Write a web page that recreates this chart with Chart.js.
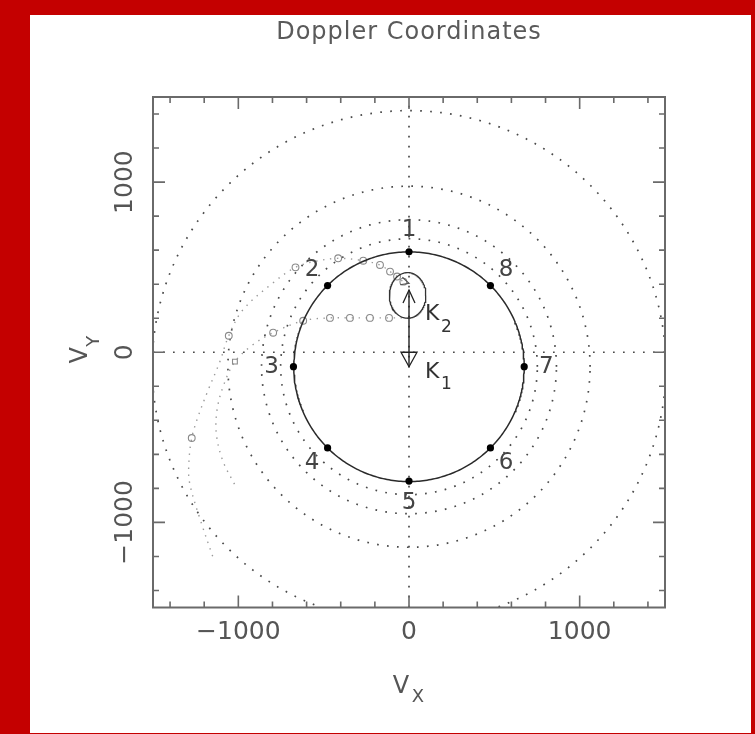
<!DOCTYPE html>
<html>
<head>
<meta charset="utf-8">
<script src="https://cdn.jsdelivr.net/npm/chart.js@4"></script>
<style>
  html, body { margin: 0; padding: 0; background: #c40000; }
  canvas { display: block; }
</style>
</head>
<body>
<canvas id="doppler" width="755" height="734"></canvas>
<script>
// ---- axis range and ticks (km/s) ----
const AXIS_MIN = -1500;
const AXIS_MAX = 1500;
const MAJOR_STEP = 1000;
const MINOR_STEP = 200;
const tickValues = [-1000, 0, 1000];

// ---- dotted reference circles around the primary ----
const ringCentre = [0, -85];
const ringRadii = [752, 864, 1061, 1505];

// ---- solid orbit circle and its eight phase markers ----
const orbitRadius = 675;
const phaseLabels = ['1', '2', '3', '4', '5', '6', '7', '8'];
const phaseVx = [0, -477, -677, -477, 0, 477, 675, 477];
const phaseVy = [590, 392, -85, -562, -757, -562, -85, 392];

// ---- K1 / K2 velocity arrows ----
const kNames = ['K', 'K'];
const kSubs = ['1', '2'];
const kValues = [-85, 366];

// ---- secondary's lobe (small loop near K2) ----
const lobeCentre = [-8, 334];
const lobeRadii = [107, 134];

// ---- gas stream trajectories (0 = no marker, 1 = circle, 2 = square) ----
const streamAVx = [0, -33, -70, -111, -170, -268, -415, -545, -665, -798, -974, -1056, -1110, -1180, -1240, -1273, -1290, -1285, -1226, -1150];
const streamAVy = [405, 415, 445, 474, 513, 538, 552, 535, 499, 407, 248, 97, -60, -230, -390, -504, -650, -770, -975, -1200];
const streamAMark = [0, 1, 1, 1, 1, 1, 1, 0, 1, 0, 0, 1, 0, 0, 0, 1, 0, 0, 0, 0];

const streamBVx = [0, -117, -229, -346, -463, -620, -796, -920, -1020, -1085, -1125, -1128, -1090, -1020];
const streamBVy = [202, 202, 202, 202, 202, 185, 115, 40, -55, -190, -340, -486, -640, -780];
const streamBMark = [0, 1, 1, 1, 1, 1, 1, 0, 2, 0, 0, 0, 0, 0];

// ---- text ----
const titleText = 'Doppler Coordinates';
const xTitle = ['V', 'X'];
const yTitle = ['V', 'Y'];

const FONT = '"DejaVu Sans", "Liberation Sans", sans-serif';
const TEXT_GREY = '#555';

function ellipse(cx, cy, rx, ry, n) {
  const pts = [];
  for (let i = 0; i <= n; i++) {
    const t = (i / n) * 2 * Math.PI;
    pts.push({ x: cx + rx * Math.cos(t), y: cy + ry * Math.sin(t) });
  }
  return pts;
}
function zip(xs, ys) { return xs.map((x, i) => ({ x, y: ys[i] })); }

const dotted = { borderColor: '#4a4a4a', borderWidth: 1.7, borderDash: [1.7, 8.3], borderCapStyle: 'butt' };

const datasets = [];

// filled phase markers on the orbit
datasets.push({
  label: 'phases', data: zip(phaseVx, phaseVy), showLine: false,
  pointRadius: 3.6, pointBackgroundColor: '#000', pointBorderColor: '#000', pointBorderWidth: 0
});
// orbit circle
datasets.push({
  label: 'orbit', data: ellipse(ringCentre[0], ringCentre[1], orbitRadius, orbitRadius, 360),
  showLine: true, pointRadius: 0, borderColor: '#2a2a2a', borderWidth: 1.5, tension: 0
});
// K arrow shaft
datasets.push({
  label: 'K shaft', data: [{ x: 0, y: kValues[0] }, { x: 0, y: kValues[1] }],
  showLine: true, pointRadius: 0, borderColor: '#222', borderWidth: 1.4
});
// secondary lobe
datasets.push({
  label: 'lobe', data: ellipse(lobeCentre[0], lobeCentre[1], lobeRadii[0], lobeRadii[1], 180),
  showLine: true, pointRadius: 0, borderColor: '#333', borderWidth: 1.3, tension: 0
});
// gas streams
function streamSet(name, xs, ys, marks) {
  return {
    label: name, data: zip(xs, ys), showLine: true, tension: 0.35,
    borderColor: '#9a9a9a', borderWidth: 1.4, borderDash: [1.4, 5.6],
    pointRadius: marks.map(m => (m ? 3.4 : 0)),
    pointStyle: marks.map(m => (m === 2 ? 'rect' : 'circle')),
    pointBorderColor: '#8a8a8a', pointBackgroundColor: 'rgba(0,0,0,0)', pointBorderWidth: 1.1
  };
}
datasets.push(streamSet('stream A', streamAVx, streamAVy, streamAMark));
datasets.push(streamSet('stream B', streamBVx, streamBVy, streamBMark));
// dotted rings
ringRadii.forEach(r => {
  datasets.push(Object.assign({
    label: 'ring ' + r, data: ellipse(ringCentre[0], ringCentre[1], r, r, 400),
    showLine: true, pointRadius: 0, tension: 0
  }, dotted));
});
// dotted zero lines
datasets.push(Object.assign({
  label: 'vx=0', data: [{ x: 0, y: AXIS_MIN }, { x: 0, y: AXIS_MAX }], showLine: true, pointRadius: 0
}, dotted));
datasets.push(Object.assign({
  label: 'vy=0', data: [{ x: AXIS_MIN, y: 0 }, { x: AXIS_MAX, y: 0 }], showLine: true, pointRadius: 0
}, dotted));

function fmt(v) { return v < 0 ? '\u2212' + Math.abs(v) : String(v); }

function text(ctx, s, x, y, size, opts) {
  opts = opts || {};
  ctx.save();
  ctx.translate(x, y);
  if (opts.rot) ctx.rotate(opts.rot);
  ctx.font = size + 'px ' + FONT;
  ctx.fillStyle = opts.color || TEXT_GREY;
  ctx.textAlign = opts.align || 'center';
  ctx.textBaseline = 'middle';
  if (opts.spacing) ctx.letterSpacing = opts.spacing;
  ctx.fillText(s, 0, 0);
  ctx.restore();
}

const backdrop = {
  id: 'backdrop',
  beforeDraw(chart) {
    const ctx = chart.ctx;
    ctx.save();
    ctx.fillStyle = '#c40000';
    ctx.fillRect(0, 0, chart.width, chart.height);
    ctx.fillStyle = '#ffffff';
    ctx.fillRect(30, 15, 721, 718);
    ctx.restore();
  }
};

const frame = {
  id: 'frame',
  afterDatasetsDraw(chart) {
    const ctx = chart.ctx;
    const xs = chart.scales.x, ys = chart.scales.y;
    const a = chart.chartArea;
    const px = v => xs.getPixelForValue(v);
    const py = v => ys.getPixelForValue(v);

    ctx.save();
    // box
    ctx.strokeStyle = '#6a6a6a';
    ctx.lineWidth = 2;
    ctx.strokeRect(a.left, a.top, a.right - a.left, a.bottom - a.top);

    // inward ticks on all four sides
    ctx.lineWidth = 1.6;
    for (let v = AXIS_MIN + MINOR_STEP / 2; v < AXIS_MAX; v += MINOR_STEP) {
      const major = v % MAJOR_STEP === 0;
      const len = major ? 12 : 6;
      const x = px(v), y = py(v);
      ctx.beginPath();
      ctx.moveTo(x, a.bottom); ctx.lineTo(x, a.bottom - len);
      ctx.moveTo(x, a.top); ctx.lineTo(x, a.top + len);
      ctx.moveTo(a.left, y); ctx.lineTo(a.left + len, y);
      ctx.moveTo(a.right, y); ctx.lineTo(a.right - len, y);
      ctx.stroke();
    }

    // tick labels
    tickValues.forEach(v => text(ctx, fmt(v), px(v), a.bottom + 25, 25));
    tickValues.forEach(v => text(ctx, fmt(v), a.left - 28, py(v), 25, { rot: -Math.PI / 2 }));

    // axis titles
    const cx = (a.left + a.right) / 2;
    text(ctx, xTitle[0], cx - 8, a.bottom + 79, 24);
    text(ctx, xTitle[1], cx + 9, a.bottom + 90, 18);
    const cy = (a.top + a.bottom) / 2;
    text(ctx, yTitle[0], a.left - 72, cy + 3, 24, { rot: -Math.PI / 2 });
    text(ctx, yTitle[1], a.left - 59, cy - 11, 18, { rot: -Math.PI / 2 });

    // title
    text(ctx, titleText, cx, 33, 24, { spacing: '1px', color: '#5a5a5a' });

    // phase numbers, pushed radially outward from the orbit centre
    const ocx = px(ringCentre[0]), ocy = py(ringCentre[1]);
    phaseLabels.forEach((s, i) => {
      const x = px(phaseVx[i]), y = py(phaseVy[i]);
      const dx = x - ocx, dy = y - ocy, d = Math.hypot(dx, dy);
      const off = 22;
      text(ctx, s, x + dx / d * off, y + dy / d * off, 23, { color: '#444' });
    });

    // K arrowheads
    ctx.strokeStyle = '#222';
    ctx.lineWidth = 1.3;
    const x0 = px(0);
    const tip2 = py(kValues[1]);
    ctx.beginPath();
    ctx.moveTo(x0 - 6, tip2 + 13); ctx.lineTo(x0, tip2); ctx.lineTo(x0 + 6, tip2 + 13);
    ctx.stroke();
    const tip1 = py(kValues[0]), base1 = py(0);
    ctx.beginPath();
    ctx.moveTo(x0 - 8, base1); ctx.lineTo(x0 + 8, base1); ctx.lineTo(x0, tip1); ctx.closePath();
    ctx.stroke();

    // K labels
    text(ctx, kNames[1], x0 + 16, py(kValues[1]) + 24, 22, { align: 'left', color: '#333' });
    text(ctx, kSubs[1], x0 + 32, py(kValues[1]) + 38, 17, { align: 'left', color: '#333' });
    text(ctx, kNames[0], x0 + 16, py(kValues[0]) + 6, 22, { align: 'left', color: '#333' });
    text(ctx, kSubs[0], x0 + 32, py(kValues[0]) + 18, 17, { align: 'left', color: '#333' });

    // arrowhead where stream A meets the lobe
    const sx = px(streamAVx[0]), sy = py(streamAVy[0]);
    const qx = px(streamAVx[1]), qy = py(streamAVy[1]);
    const ang = Math.atan2(sy - qy, sx - qx);
    ctx.strokeStyle = '#555';
    ctx.lineWidth = 1.2;
    ctx.beginPath();
    ctx.moveTo(sx - 9 * Math.cos(ang - 0.45), sy - 9 * Math.sin(ang - 0.45));
    ctx.lineTo(sx, sy);
    ctx.lineTo(sx - 9 * Math.cos(ang + 0.45), sy - 9 * Math.sin(ang + 0.45));
    ctx.stroke();

    ctx.restore();
  }
};

new Chart(document.getElementById('doppler'), {
  type: 'scatter',
  data: { datasets },
  options: {
    responsive: false,
    devicePixelRatio: 1,
    animation: false,
    layout: { padding: { left: 153, right: 90, top: 97, bottom: 126.5 } },
    plugins: { legend: { display: false }, tooltip: { enabled: false }, title: { display: false } },
    scales: {
      x: { type: 'linear', min: AXIS_MIN, max: AXIS_MAX, display: false },
      y: { type: 'linear', min: AXIS_MIN, max: AXIS_MAX, display: false }
    }
  },
  plugins: [backdrop, frame]
});
</script>
</body>
</html>
